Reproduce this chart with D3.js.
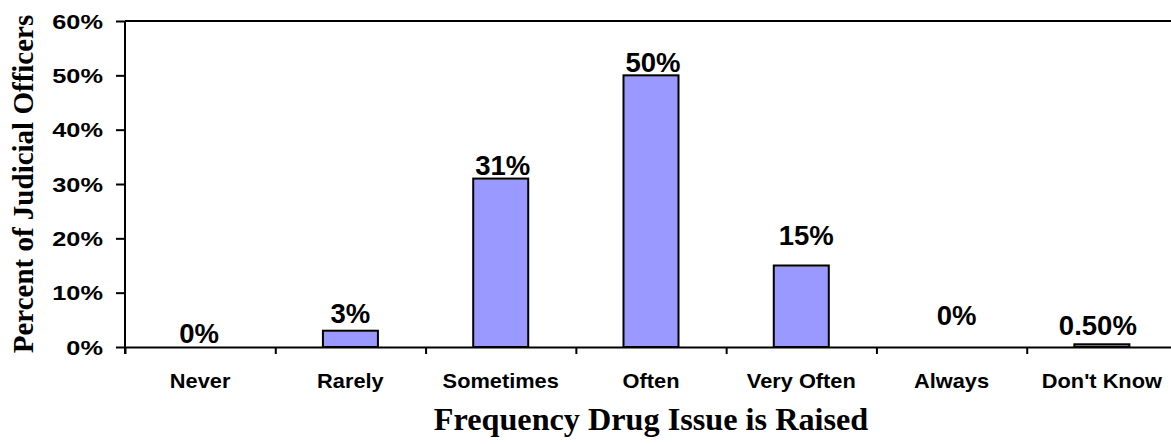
<!DOCTYPE html>
<html>
<head>
<meta charset="utf-8">
<script src="https://cdn.jsdelivr.net/npm/d3@7"></script>
<style>
  html, body { margin: 0; padding: 0; background: #ffffff; }
  svg { display: block; }
  .sans { font-family: "Liberation Sans", Arial, sans-serif; font-weight: bold; fill: #000; }
  .serif { font-family: "Liberation Serif", "Times New Roman", serif; font-weight: bold; fill: #000; }
</style>
</head>
<body>
<svg id="chart" width="1171" height="444"></svg>
<script>
// Survey responses: how often a drug issue is raised
const categories = ["Never", "Rarely", "Sometimes", "Often", "Very Often", "Always", "Don't Know"];
const values = [0, 3, 31, 50, 15, 0, 0.5];
const valueLabels = ["0%", "3%", "31%", "50%", "15%", "0%", "0.50%"];
const yTickValues = [0, 10, 20, 30, 40, 50, 60];
const yTitle = "Percent of Judicial Officers";
const xTitle = "Frequency Drug Issue is Raised";

const W = 1171, H = 444;
const plot = { left: 125, right: 1177, top: 21, bottom: 347 };

const svg = d3.select("#chart");
svg.append("rect").attr("width", W).attr("height", H).attr("fill", "#fff");

const x = d3.scaleBand()
  .domain(categories)
  .range([plot.left, plot.right])
  .paddingInner(0.634)
  .paddingOuter(0.317);

const y = d3.scaleLinear().domain([0, 60]).range([plot.bottom, plot.top]);

// boundaries between categories, for the tick marks under the axis
const slot = d3.scaleLinear().domain([0, categories.length]).range([plot.left, plot.right]);

// widen a text element horizontally about its anchor point
function widen(sel, k) {
  sel.each(function () {
    const t = d3.select(this);
    const ax = +t.attr("x") || 0;
    const ay = +t.attr("y") || 0;
    t.attr("x", 0).attr("y", 0)
      .attr("transform", `translate(${ax},${ay}) scale(${k},1)`);
  });
}

// plot frame (top and left edges, the right edge falls outside the view)
svg.append("line")
  .attr("x1", plot.left).attr("x2", plot.right)
  .attr("y1", plot.top).attr("y2", plot.top)
  .attr("stroke", "#000").attr("stroke-width", 2);

// bars
svg.append("g").selectAll("rect")
  .data(categories)
  .join("rect")
  .attr("x", d => x(d))
  .attr("width", x.bandwidth())
  .attr("y", (d, i) => y(values[i]))
  .attr("height", (d, i) => y(0) - y(values[i]))
  .attr("fill", "#9999ff")
  .attr("stroke", "#000")
  .attr("stroke-width", 2);

// y axis
const yAxis = svg.append("g")
  .attr("transform", `translate(${plot.left},0)`)
  .call(d3.axisLeft(y).tickValues(yTickValues).tickFormat(d => d + "%").tickSize(9).tickPadding(13).tickSizeOuter(0));
yAxis.select(".domain").remove();
yAxis.selectAll(".tick line").attr("stroke", "#000").attr("stroke-width", 2);
yAxis.selectAll(".tick text")
  .attr("class", "sans")
  .style("font-size", "19.5px")
  .attr("dy", "0.36em")
  .call(widen, 1.3);

// left axis line, running down past the baseline like the category ticks
svg.append("line")
  .attr("x1", plot.left).attr("x2", plot.left)
  .attr("y1", plot.top).attr("y2", plot.bottom + 7)
  .attr("stroke", "#000").attr("stroke-width", 2);

// x axis baseline with category separators
const xTicks = svg.append("g")
  .attr("transform", `translate(0,${plot.bottom})`)
  .call(d3.axisBottom(slot).tickValues(d3.range(categories.length)).tickFormat("").tickSize(7).tickSizeOuter(0));
xTicks.select(".domain").attr("stroke", "#000").attr("stroke-width", 2);
xTicks.selectAll(".tick line").attr("stroke", "#000").attr("stroke-width", 2);

// category labels
const xLabels = svg.append("g")
  .attr("transform", `translate(0,${plot.bottom})`)
  .call(d3.axisBottom(x).tickSize(0).tickSizeOuter(0));
xLabels.select(".domain").remove();
xLabels.selectAll(".tick text")
  .attr("class", "sans")
  .style("font-size", "20px")
  .attr("y", 41)
  .attr("dy", 0)
  .call(widen, 1.09);

// value labels: gap above the bar top and a small sideways nudge
const labelGap = { "Never": 4, "Rarely": 8, "Sometimes": 4, "Often": 3.5, "Very Often": 20.5, "Always": 22, "Don't Know": 9.5 };
const labelNudge = { "Never": -1, "Rarely": 0, "Sometimes": 2, "Often": 2, "Very Often": 5, "Always": 5, "Don't Know": -4 };
svg.append("g").selectAll("text")
  .data(categories)
  .join("text")
  .attr("class", "sans")
  .style("font-size", "27.5px")
  .attr("text-anchor", "middle")
  .attr("x", d => x(d) + x.bandwidth() / 2 + labelNudge[d])
  .attr("y", (d, i) => y(values[i]) - labelGap[d])
  .text((d, i) => valueLabels[i]);

// axis titles
svg.append("text")
  .attr("class", "serif")
  .style("font-size", "29px")
  .attr("text-anchor", "middle")
  .attr("transform", `translate(33,${(plot.top + plot.bottom) / 2}) rotate(-90)`)
  .text(yTitle);

svg.append("text")
  .attr("class", "serif")
  .style("font-size", "31px")
  .attr("text-anchor", "middle")
  .attr("x", (plot.left + plot.right) / 2)
  .attr("y", 430)
  .text(xTitle)
  .call(widen, 1.04);
</script>
</body>
</html>
